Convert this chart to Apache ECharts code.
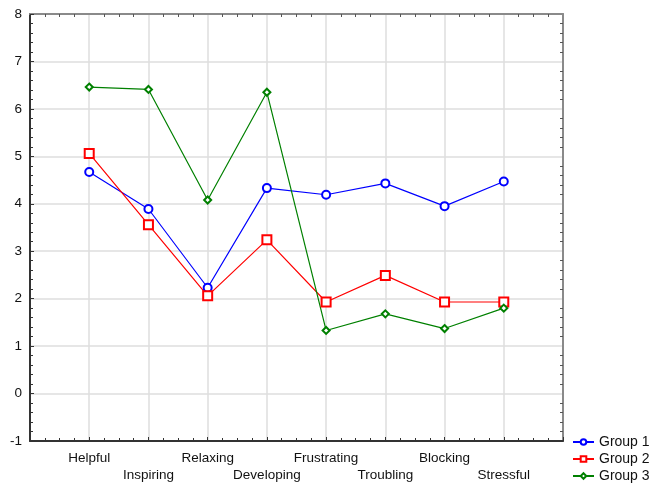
<!DOCTYPE html>
<html><head><meta charset="utf-8">
<script src="https://cdn.jsdelivr.net/npm/echarts@6/dist/echarts.min.js"></script>
<style>html,body{margin:0;padding:0;background:#fff}#c{width:649px;height:484px}</style>
</head><body><div id="c"></div>
<script>
const categories = ['Helpful','Inspiring','Relaxing','Developing','Frustrating','Troubling','Blocking','Stressful'];
const group1 = [4.67, 3.89, 2.23, 4.33, 4.19, 4.43, 3.95, 4.47];
const group2 = [5.06, 3.56, 2.06, 3.24, 1.93, 2.49, 1.93, 1.93];
const group3 = [6.46, 6.41, 4.08, 6.35, 1.33, 1.68, 1.37, 1.80];
const seriesNames = ['Group 1','Group 2','Group 3'];
const yTicks = [-1,0,1,2,3,4,5,6,7,8];

const font = '"Liberation Sans", Arial, sans-serif';
const toPts = arr => arr.map((v,i)=>[i+1,v]);
const chart = echarts.init(document.getElementById('c'), null, {renderer:'canvas'});
const gridColor = '#dedede';
const mk = (name, data, color, symbol, size) => ({
  name, type:'line', data: toPts(data), xAxisIndex:0, yAxisIndex:0,
  symbol, symbolSize:size, showSymbol:true,
  lineStyle:{color, width:1.2}, itemStyle:{color, borderWidth:1},
  emphasis:{disabled:true}, animation:false
});
chart.setOption({
  animation:false,
  backgroundColor:'#fff',
  grid:{left:30, right:86, top:14, bottom:41, containLabel:false},
  legend:{
    orient:'vertical', left:572, top:435, padding:0, itemWidth:21, itemHeight:7, itemGap:3,
    textStyle:{fontFamily:font, fontSize:14, color:'#111'},
    data: seriesNames
  },
  xAxis:[{
    type:'value', min:0, max:9, interval:1, position:'bottom',
    axisLine:{show:true, onZero:false, lineStyle:{color:'#333', width:2}},
    axisTick:{show:true, inside:true, length:4, lineStyle:{color:'#333'}},
    minorTick:{show:true, splitNumber:4, length:3, lineStyle:{color:'#333'}},
    splitLine:{show:true, lineStyle:{color:gridColor, width:1.5}},
    axisLabel:{
      fontFamily:font, fontSize:13.5, color:'#111', margin:9, lineHeight:17,
      showMinLabel:true, showMaxLabel:true,
      formatter: v => { const i = Math.round(v)-1; if (i<0 || i>=categories.length) return ''; return (i%2===1?'\n':'') + categories[i]; }
    }
  },{
    type:'value', min:0, max:9, interval:1, position:'top',
    axisLine:{show:true, onZero:false, lineStyle:{color:'#8a8a8a', width:2}},
    axisTick:{show:false, inside:true},
    minorTick:{show:true, splitNumber:4, length:3, lineStyle:{color:'#555'}},
    splitLine:{show:false}, axisLabel:{show:false}
  }],
  yAxis:[{
    type:'value', min:-1, max:8, interval:1, position:'left',
    axisLine:{show:true, onZero:false, lineStyle:{color:'#333', width:2}},
    axisTick:{show:true, inside:true, length:4, lineStyle:{color:'#333'}},
    minorTick:{show:true, splitNumber:5, length:3, lineStyle:{color:'#333'}},
    splitLine:{show:true, lineStyle:{color:gridColor, width:1.5}},
    axisLabel:{fontFamily:font, fontSize:13.5, color:'#111', margin:8,
      formatter: v => yTicks.includes(v) ? String(v) : ''}
  },{
    type:'value', min:-1, max:8, interval:1, position:'right',
    axisLine:{show:true, onZero:false, lineStyle:{color:'#8a8a8a', width:2}},
    axisTick:{show:false, inside:true},
    minorTick:{show:true, splitNumber:5, length:3, lineStyle:{color:'#555'}},
    splitLine:{show:false}, axisLabel:{show:false}
  }],
  series:[
    mk(seriesNames[0], group1, '#0000ff', 'emptyCircle', 8),
    mk(seriesNames[1], group2, '#ff0000', 'emptyRect', 9),
    mk(seriesNames[2], group3, '#008000', 'emptyDiamond', 7)
  ]
});
</script></body></html>
